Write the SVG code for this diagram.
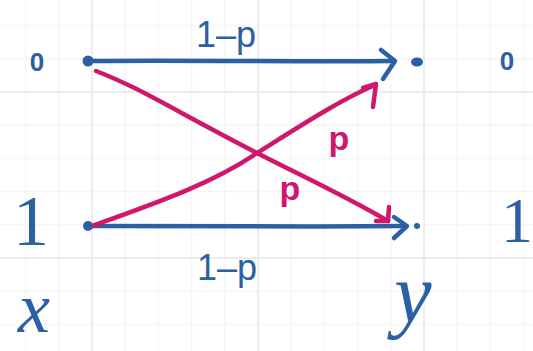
<svg xmlns="http://www.w3.org/2000/svg" width="533" height="351" viewBox="0 0 533 351">
<style>
.minor{stroke:#f5f5f5;stroke-width:1.5}
.major{stroke:#ececec;stroke-width:2}
.blue{stroke:#2c60a4;stroke-width:4.5;fill:none;stroke-linecap:round;stroke-linejoin:round}
.pink{stroke:#cf176c;stroke-width:4.5;fill:none;stroke-linecap:round;stroke-linejoin:round}
.bt{fill:#2c60a4;font-family:"Liberation Sans",Arial,sans-serif}
.bs{fill:#2c60a4;font-family:"Liberation Serif","Times New Roman",serif}
.pt{fill:#cf176c;font-family:"Liberation Sans",Arial,sans-serif;font-weight:bold}
</style>
<rect width="533" height="351" fill="#ffffff"/>
<g id="grid">
<path class="minor" d="M25.6,0V351M58.8,0V351M125.2,0V351M158.4,0V351M191.6,0V351M224.8,0V351M291.2,0V351M324.4,0V351M357.6,0V351M390.8,0V351M457.2,0V351M490.4,0V351M523.6,0V351M0,25.6H533M0,58.8H533M0,125.2H533M0,158.4H533M0,191.6H533M0,224.8H533M0,291.2H533M0,324.4H533"/>
<path class="major" d="M92,0V351M258,0V351M424,0V351M0,92H533M0,258H533"/>
</g>
<g id="connectors">
<path class="blue" d="M88,61 C200,60 300,62 393,61"/>
<polyline class="blue" points="381,50 395,61 383,79"/>
<path class="blue" d="M88,226 C200,226 300,227 405,226"/>
<polyline class="blue" points="394,217 407,226 394,238"/>
<path class="pink" d="M96,71 C140,88 170,108 257,153 C310,180 345,196 388,221"/>
<polyline class="pink" points="389,207 388,221 376,221"/>
<path class="pink" d="M92,226 C150,205 210,185 257,153 C300,126 340,100 375,85"/>
<polyline class="pink" points="363,88 376,84 373,107"/>
</g>
<g id="input-0">
<text class="bt" x="37" y="71" font-size="26" font-weight="bold" text-anchor="middle">0</text>
<circle cx="88" cy="61" r="5.5" fill="#2c60a4"/>
</g>
<g id="input-1">
<text class="bs" x="31" y="245" font-size="72" text-anchor="middle">1</text>
<circle cx="88" cy="226" r="5" fill="#2c60a4"/>
</g>
<g id="output-0">
<ellipse cx="417" cy="62" rx="6" ry="4.5" fill="#2c60a4"/>
<text class="bt" x="507" y="70" font-size="26" font-weight="bold" text-anchor="middle">0</text>
</g>
<g id="output-1">
<circle cx="417" cy="226" r="3" fill="#2c60a4"/>
<text class="bs" x="517" y="242" font-size="64" text-anchor="middle">1</text>
</g>
<g id="labels">
<text class="bt" x="226" y="47" font-size="36" text-anchor="middle">1–p</text>
<text class="bt" x="227" y="280" font-size="36" text-anchor="middle">1–p</text>
<text class="pt" x="339" y="150" font-size="34" text-anchor="middle">p</text>
<text class="pt" x="290" y="200" font-size="34" text-anchor="middle">p</text>
<text class="bs" x="34" y="332" font-size="72" font-style="italic" text-anchor="middle">x</text>
<text class="bs" x="413" y="322" font-size="84" font-style="italic" text-anchor="middle">y</text>
</g>
</svg>
